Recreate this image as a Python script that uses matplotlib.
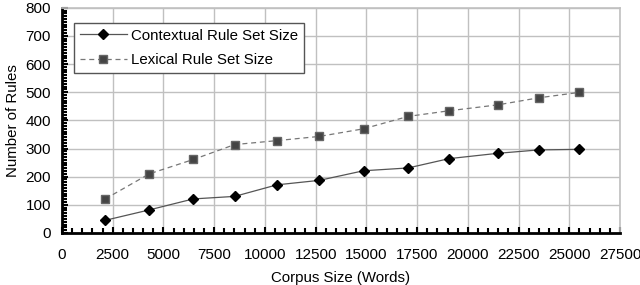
import matplotlib
matplotlib.use("Agg")
import matplotlib.pyplot as plt
from matplotlib.ticker import MultipleLocator

plt.rcParams['font.family'] = ['Liberation Sans', 'DejaVu Sans']

corpus_x = [2130, 4300, 6470, 8510, 10590, 12690, 14860, 17060, 19070, 21480, 23490, 25470]
contextual = [45, 82, 121, 130, 171, 187, 221, 231, 264, 283, 295, 297]
lexical = [121, 210, 261, 314, 328, 343, 370, 414, 434, 455, 480, 499]

fig = plt.figure(figsize=(6.4, 2.85), dpi=100)
ax = fig.add_axes([62/640, 52/285, 558/640, 225.3/285])

ax.plot(corpus_x, contextual, color='#555555', lw=0.9, marker='D', ms=5.5,
        mfc='black', mec='black', label='Contextual Rule Set Size', zorder=3)
ax.plot(corpus_x, lexical, color='#777777', lw=0.9, ls=(0, (4, 3)), marker='s', ms=6,
        mfc='#444444', mec='#666666', label='Lexical Rule Set Size', zorder=3)

ax.set_xlim(0, 27500)
ax.set_ylim(0, 800)
ax.xaxis.set_major_locator(MultipleLocator(2500))
ax.xaxis.set_minor_locator(MultipleLocator(500))
ax.yaxis.set_major_locator(MultipleLocator(100))
ax.yaxis.set_minor_locator(MultipleLocator(10))
ax.grid(True, which='major', color='#c0c0c0', lw=1.0)
ax.set_axisbelow(True)

ax.tick_params(which='both', direction='in', color='black', width=1.5, labelsize=11)
ax.tick_params(which='major', length=4)
ax.tick_params(which='minor', length=3.5)
ax.tick_params(axis='x', pad=11)
ax.tick_params(axis='y', pad=8)

for s in ['left', 'bottom']:
    ax.spines[s].set_color('black')
    ax.spines[s].set_linewidth(2)
for s in ['top', 'right']:
    ax.spines[s].set_color('#c0c0c0')
    ax.spines[s].set_linewidth(1.2)

ax.set_xlabel('Corpus Size (Words)', fontsize=10.8, labelpad=6)
ax.set_ylabel('Number of Rules', fontsize=10.8, labelpad=4)

leg = ax.legend(loc='upper left', bbox_to_anchor=(12/558, 1 - 15/225.3), fontsize=10.8,
                frameon=True, fancybox=False, edgecolor='#555555', framealpha=1,
                borderaxespad=0, handlelength=3.1, borderpad=0.4, labelspacing=0.7,
                handletextpad=0.3)
leg.get_frame().set_linewidth(1.0)

fig.savefig('out.png', dpi=100)
